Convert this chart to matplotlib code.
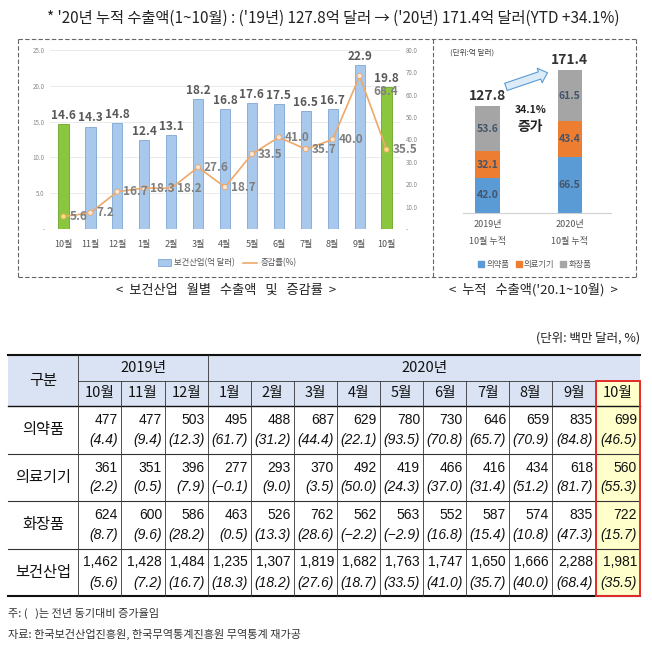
import numpy as np
import matplotlib
matplotlib.use('Agg')
import matplotlib.pyplot as plt
from matplotlib.patches import Rectangle, FancyArrowPatch
from matplotlib.lines import Line2D

plt.rcParams['font.family'] = ['Noto Sans CJK KR', 'DejaVu Sans']
plt.rcParams['axes.unicode_minus'] = False

W, H = 652, 653

# --- data ---
months = ['10월', '11월', '12월', '1월', '2월', '3월', '4월', '5월', '6월', '7월', '8월', '9월', '10월']
exports = [14.6, 14.3, 14.8, 12.4, 13.1, 18.2, 16.8, 17.6, 17.5, 16.5, 16.7, 22.9, 19.8]
growth = [5.6, 7.2, 16.7, 18.3, 18.2, 27.6, 18.7, 33.5, 41.0, 35.7, 40.0, 68.4, 35.5]

cum_years = ['2019년\n10월 누적', '2020년\n10월 누적']
cum_pharma = [42.0, 66.5]
cum_device = [32.1, 43.4]
cum_cosmetic = [53.6, 61.5]
cum_total = [127.8, 171.4]

table_years = ['2019년', '2020년']
table_cats = ['의약품', '의료기기', '화장품', '보건산업']
table_vals = [
    [477, 477, 503, 495, 488, 687, 629, 780, 730, 646, 659, 835, 699],
    [361, 351, 396, 277, 293, 370, 492, 419, 466, 416, 434, 618, 560],
    [624, 600, 586, 463, 526, 762, 562, 563, 552, 587, 574, 835, 722],
    [1462, 1428, 1484, 1235, 1307, 1819, 1682, 1763, 1747, 1650, 1666, 2288, 1981],
]
table_pct = [
    [4.4, 9.4, 12.3, 61.7, 31.2, 44.4, 22.1, 93.5, 70.8, 65.7, 70.9, 84.8, 46.5],
    [2.2, 0.5, 7.9, -0.1, 9.0, 3.5, 50.0, 24.3, 37.0, 31.4, 51.2, 81.7, 55.3],
    [8.7, 9.6, 28.2, 0.5, 13.3, 28.6, -2.2, -2.9, 16.8, 15.4, 10.8, 47.3, 15.7],
    [5.6, 7.2, 16.7, 18.3, 18.2, 27.6, 18.7, 33.5, 41.0, 35.7, 40.0, 68.4, 35.5],
]

fig = plt.figure(figsize=(W / 100, H / 100), dpi=100)


def px_axes(l, t, r, b):
    return fig.add_axes([l / W, 1 - b / H, (r - l) / W, (b - t) / H])


# overlay in pixel coordinates (boxes, captions, table)
ov = fig.add_axes([0, 0, 1, 1], zorder=-1)
ov.set_xlim(0, W)
ov.set_ylim(H, 0)
ov.axis('off')

ov.text(333, 18, "* '20년 누적 수출액(1~10월) : ('19년) 127.8억 달러 → ('20년) 171.4억 달러(YTD +34.1%)",
        ha='center', va='center', fontsize=11, color='#222')

# dashed boxes
dash = dict(color='#666', lw=0.8, ls=(0, (4, 2)))
ov.plot([18, 636], [39, 39], **dash)
ov.plot([18, 636], [277, 277], **dash)
ov.plot([18, 18], [39, 277], **dash)
ov.plot([433, 433], [39, 277], **dash)
ov.plot([636, 636], [39, 277], **dash)

ov.text(226, 290, '<  보건산업   월별   수출액   및   증감률  >', ha='center', va='center', fontsize=9.5, color='#222')
ov.text(533, 290, "<  누적   수출액('20.1~10월)  >", ha='center', va='center', fontsize=9.5, color='#222')

# --- left chart ---
ax = px_axes(50, 50, 400, 229)
x = np.arange(len(months))
green = (0, len(months) - 1)
colors = ['#8cc63f' if i in green else '#a9c9ec' for i in x]
edges = ['#6aa52a' if i in green else '#7ea8d6' for i in x]
ax.bar(x, exports, width=0.38, color=colors, edgecolor=edges, linewidth=0.6, zorder=2)
ax.set_xlim(-0.5, len(months) - 0.5)
ax.set_ylim(0, 25)
ax.set_yticks([0, 5, 10, 15, 20, 25], ['-', '5.0', '10.0', '15.0', '20.0', '25.0'])
ax.set_xticks(x, months)
ax.tick_params(axis='x', length=0, labelsize=6.5, labelcolor='#555', pad=8)
ax.tick_params(axis='y', length=0, labelsize=4.5, labelcolor='#888', pad=4)
ax.grid(axis='y', color='#e8e8e8', lw=0.6, zorder=0)
for s in ax.spines.values():
    s.set_visible(False)
ax.axhline(0, color='#d8d8d8', lw=0.6)
for i, v in enumerate(exports):
    ax.text(i, v + 0.3, f'{v:.1f}', ha='center', va='bottom', fontsize=8.5,
            color='#595959', fontweight='bold')

ax2 = ax.twinx()
ax2.set_ylim(0, 80)
ax2.set_yticks(np.arange(0, 81, 10), ['-'] + [f'{v:.1f}' for v in np.arange(10, 81, 10)])
ax2.tick_params(axis='y', length=0, labelsize=4.5, labelcolor='#888', pad=4)
for s in ax2.spines.values():
    s.set_visible(False)
mfc = ['#f7e27a' if i in green else '#fbe6d2' for i in x]
ax2.plot(x, growth, color='#f0a868', lw=1.2, zorder=3)
ax2.scatter(x, growth, s=14, c=mfc, edgecolors='#e9a46a', linewidths=0.6, zorder=4)
for i, g in enumerate(growth):
    dx, gy = 0.22, g
    if i == len(growth) - 2:
        dx, gy = 0.5, g - 7
    ax2.text(i + dx, gy, f'{g:.1f}', ha='left', va='center', fontsize=8.5,
             color='#7f7f7f', fontweight='bold', zorder=5)

handles = [Rectangle((0, 0), 1, 1, fc='#a9c9ec', ec='#7ea8d6', lw=0.6),
           Line2D([], [], color='#f0a868', lw=1.2)]
fig.legend(handles, ['보건산업(억 달러)', '증감률(%)'], loc='center',
           bbox_to_anchor=(227 / W, 1 - 263 / H), ncol=2, frameon=False,
           fontsize=6, labelcolor='#555', handlelength=1.6, handleheight=0.8,
           columnspacing=1.0, handletextpad=0.4)

# --- right chart ---
axr = px_axes(463, 46, 611, 213)
xr = np.arange(len(cum_years))
bw = 0.3
bot2 = np.add(cum_pharma, cum_device)
axr.bar(xr, cum_pharma, bw, color='#5b9bd5', zorder=2)
axr.bar(xr, cum_device, bw, bottom=cum_pharma, color='#ed7d31', zorder=2)
axr.bar(xr, cum_cosmetic, bw, bottom=bot2, color='#a5a5a5', zorder=2)
for i in xr:
    for base, val in ((0, cum_pharma[i]), (cum_pharma[i], cum_device[i]), (bot2[i], cum_cosmetic[i])):
        axr.text(i, base + val / 2, f'{val:.1f}', ha='center', va='center', fontsize=7.5,
                 color='#44546a', fontweight='bold', zorder=3)
    axr.text(i, cum_total[i] + 4, f'{cum_total[i]:.1f}', ha='center', va='bottom',
             fontsize=10, color='#333', fontweight='bold')
axr.set_xlim(-0.3, 1.5)
axr.set_ylim(0, 200)
axr.set_yticks([])
axr.set_xticks(xr, cum_years, linespacing=2.1)
axr.tick_params(axis='x', length=0, labelsize=6.5, labelcolor='#555', pad=5)
for k, s in axr.spines.items():
    s.set_visible(k == 'bottom')
axr.spines['bottom'].set_color('#d0d0d0')
axr.patch.set_alpha(0)

arrow = FancyArrowPatch((0.19, 150), (0.76, 169),
                        arrowstyle='simple,head_length=6,head_width=11,tail_width=5.5',
                        fc='#dcebf8', ec='#5b9bd5', lw=0.8, mutation_scale=1, zorder=4)
axr.add_patch(arrow)
axr.text(0.52, 123, '34.1%', ha='center', va='center', fontsize=7.5, fontweight='bold', color='#222')
axr.text(0.52, 103, '증가', ha='center', va='center', fontsize=10, fontweight='bold', color='#222')
ov.text(450, 53, '(단위:억 달러)', ha='left', va='center', fontsize=5.5, color='#444')

leg_h = [Line2D([], [], ls='', marker='s', ms=4, color=c) for c in ('#5b9bd5', '#ed7d31', '#a5a5a5')]
fig.legend(leg_h, ['의약품', '의료기기', '화장품'], loc='center',
           bbox_to_anchor=(535 / W, 1 - 264 / H), ncol=3, frameon=False,
           fontsize=6, labelcolor='#555', handlelength=0.6, handletextpad=0.3,
           columnspacing=0.8)

# --- table ---
cols = [8, 78, 121, 165, 208, 251, 294, 337, 380, 423, 466, 509, 552, 596, 640]
t_top, t_mid, t_head = 355, 381, 406
row_h = 47.5
t_bot = t_head + row_h * len(table_cats)
num_font = ['Liberation Sans', 'DejaVu Sans']

ov.text(640, 338, '(단위: 백만 달러, %)', ha='right', va='center', fontsize=9, color='#222')
ov.add_patch(Rectangle((cols[0], t_top), cols[-1] - cols[0], t_head - t_top, fc='#dae3f3', ec='none'))
ov.add_patch(Rectangle((cols[-2], t_mid), cols[-1] - cols[-2], t_bot - t_mid, fc='#ffffcc', ec='none'))

line = dict(color='#333', lw=0.6)
ov.plot([cols[0], cols[-1]], [t_top, t_top], color='#111', lw=1.5)
ov.plot([cols[1], cols[-1]], [t_mid, t_mid], **line)
ov.plot([cols[0], cols[-1]], [t_head, t_head], color='#111', lw=1.0)
for r in range(1, len(table_cats)):
    yy = t_head + r * row_h
    ov.plot([cols[0], cols[-1]], [yy, yy], color='#333', lw=0.8)
ov.plot([cols[0], cols[-1]], [t_bot, t_bot], color='#111', lw=1.5)
for j, cx in enumerate(cols[1:-1], start=1):
    y0 = t_top if j in (1, 4) else t_mid
    ov.plot([cx, cx], [y0, t_bot], **line)
ov.add_patch(Rectangle((cols[-2], t_mid), cols[-1] - cols[-2], t_bot - t_mid,
                       fc='none', ec='#e52b2b', lw=1.4, zorder=5))

ov.text((cols[0] + cols[1]) / 2, (t_top + t_head) / 2, '구분', ha='center', va='center', fontsize=11, color='#111')
ov.text((cols[1] + cols[4]) / 2, (t_top + t_mid) / 2, table_years[0], ha='center', va='center', fontsize=10.5, color='#111')
ov.text((cols[4] + cols[-1]) / 2, (t_top + t_mid) / 2, table_years[1], ha='center', va='center', fontsize=10.5, color='#111')
for j, m in enumerate(months):
    ov.text((cols[j + 1] + cols[j + 2]) / 2, (t_mid + t_head) / 2, m, ha='center', va='center',
            fontsize=10.5, color='#111')

for r, cat in enumerate(table_cats):
    top = t_head + r * row_h
    ov.text((cols[0] + cols[1]) / 2, top + row_h / 2, cat, ha='center', va='center', fontsize=11, color='#111')
    for j in range(len(months)):
        xr_ = cols[j + 2] - 3
        ov.text(xr_, top + 14, f'{table_vals[r][j]:,}', ha='right', va='center', fontsize=10,
                color='#111', family=num_font)
        ptxt = f'({table_pct[r][j]:.1f})'.replace('-', '−')
        ov.text(xr_, top + 34, ptxt, ha='right', va='center', fontsize=10, color='#111',
                style='italic', family=num_font)

ov.text(8, 613, '주: (   )는 전년 동기대비 증가율임', ha='left', va='center', fontsize=8, color='#333')
ov.text(8, 634, '자료: 한국보건산업진흥원, 한국무역통계진흥원 무역통계 재가공', ha='left', va='center', fontsize=8, color='#333')

fig.savefig('out.png', dpi=100)
